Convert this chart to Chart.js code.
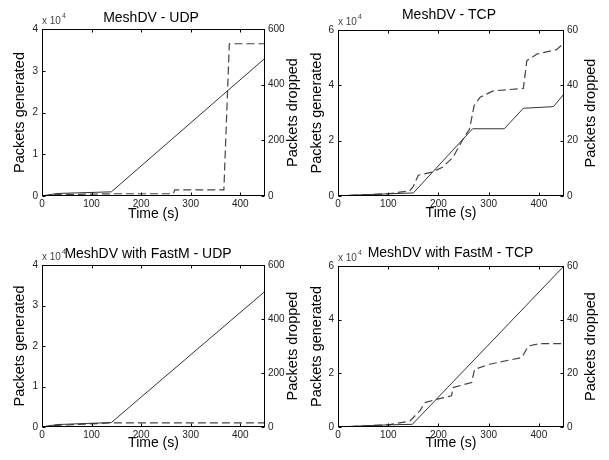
<!DOCTYPE html>
<html>
<head>
<meta charset="utf-8">
<title>MeshDV packets</title>
<script src="https://cdn.jsdelivr.net/npm/chart.js@4.4.1/dist/chart.umd.min.js"></script>
<style>
  html, body { margin: 0; padding: 0; background: #fff; }
  #wrap { position: relative; width: 609px; height: 460px; }
  #wrap canvas { position: absolute; left: 0; top: 0; }
</style>
</head>
<body>
<div id="wrap">
  <canvas id="c1" width="609" height="460"></canvas>
  <canvas id="c2" width="609" height="460"></canvas>
  <canvas id="c3" width="609" height="460"></canvas>
  <canvas id="c4" width="609" height="460"></canvas>
</div>
<script>
const FONT = "'Liberation Sans', Arial, sans-serif";

// tick labels
const timeTicks = [0, 100, 200, 300, 400];
const udpGenTicks = [0, 10000, 20000, 30000, 40000];
const udpDropTicks = [0, 200, 400, 600];
const tcpGenTicks = [0, 20000, 40000, 60000];
const tcpDropTicks = [0, 20, 40, 60];

// MeshDV - UDP
const udpGenTime = [0, 30, 140, 450];
const udpGen = [0, 600, 1000, 33000];
const udpDropTime = [0, 30, 140, 265, 268, 367, 378, 450];
const udpDrop = [0, 5, 8, 8, 22, 22, 547, 547];

// MeshDV - TCP
const tcpGenTime = [0, 30, 100, 150, 268, 331, 369, 429, 450];
const tcpGen = [0, 300, 800, 1100, 24300, 24300, 31700, 32300, 36900];
const tcpDropTime = [0, 100, 143, 150, 160, 187, 208, 229, 249, 262, 266, 271, 283, 309, 369, 376, 396, 435, 450];
const tcpDrop = [0, 0.8, 1.9, 3.5, 7.5, 8.6, 10.4, 14, 20.6, 24.2, 28, 32.6, 35.7, 38, 38.9, 48.9, 51.3, 52.9, 55.3];

// MeshDV with FastM - UDP
const fastUdpGenTime = [0, 30, 140, 450];
const fastUdpGen = [0, 600, 1100, 33500];
const fastUdpDropTime = [0, 30, 140, 450];
const fastUdpDrop = [0, 6, 15, 15];

// MeshDV with FastM - TCP
const fastTcpGenTime = [0, 60, 100, 148, 450];
const fastTcpGen = [0, 500, 800, 1000, 60000];
const fastTcpDropTime = [0, 100, 143, 163, 173, 196, 226, 229, 266, 272, 302, 366, 379, 402, 450];
const fastTcpDrop = [0, 0.8, 2.2, 6, 9.1, 10.3, 11.6, 14.7, 16.6, 21.5, 23.4, 25.9, 30.2, 31.1, 31.1];

const titles = ["MeshDV - UDP", "MeshDV - TCP", "MeshDV with FastM - UDP", "MeshDV with FastM - TCP"];

const pts = (xs, ys) => xs.map((x, i) => ({ x, y: ys[i] }));

// box outline, inward ticks, right label and the x10^4 note
const framePlugin = {
  id: "frame",
  afterDraw(chart, args, opts) {
    const { ctx, chartArea: a, scales } = chart;
    const L = Math.round(a.left) + 0.5, R = Math.round(a.right) - 0.5;
    const T = Math.round(a.top) + 0.5, B = Math.round(a.bottom) - 0.5;
    ctx.save();
    ctx.strokeStyle = "#000";
    ctx.lineWidth = 1;
    ctx.strokeRect(L, T, R - L, B - T);
    ctx.beginPath();
    scales.x.ticks.forEach(t => {
      const px = Math.round(scales.x.getPixelForValue(t.value)) + 0.5;
      ctx.moveTo(px, B); ctx.lineTo(px, B - 3);
      ctx.moveTo(px, T); ctx.lineTo(px, T + 3);
    });
    scales.y.ticks.forEach(t => {
      const py = Math.round(scales.y.getPixelForValue(t.value)) + 0.5;
      ctx.moveTo(L, py); ctx.lineTo(L + 3, py);
    });
    scales.y1.ticks.forEach(t => {
      const py = Math.round(scales.y1.getPixelForValue(t.value)) + 0.5;
      ctx.moveTo(R, py); ctx.lineTo(R - 3, py);
    });
    ctx.stroke();

    ctx.fillStyle = "#000";
    ctx.font = "14.5px " + FONT;
    ctx.textAlign = "center";
    ctx.textBaseline = "middle";
    ctx.translate(a.right + opts.rightOffset, (a.top + a.bottom) / 2);
    ctx.rotate(-Math.PI / 2);
    ctx.fillText("Packets dropped", 0, 0);
    ctx.restore();

    ctx.save();
    ctx.fillStyle = "#444";
    ctx.textBaseline = "middle";
    ctx.textAlign = "left";
    ctx.font = "10px " + FONT;
    const w = ctx.measureText("x 10").width;
    ctx.fillText("x 10", a.left, a.top - 7.5);
    ctx.font = "7px " + FONT;
    ctx.fillText("4", a.left + w + 1, a.top - 12.5);
    ctx.restore();
  }
};

function makePanel(id, title, gen, drop, genTicks, dropTicks, lay) {
  const [rl, rt, rr, rb] = lay.region;
  const [bl, bt, br, bb] = lay.box;
  const titleTop = lay.titleY - rt - 8.4;
  new Chart(document.getElementById(id), {
    type: "line",
    data: {
      datasets: [
        { data: gen, yAxisID: "y", borderColor: "#333", borderWidth: 1, pointRadius: 0, tension: 0, fill: false },
        { data: drop, yAxisID: "y1", borderColor: "#444", borderWidth: 1.2, borderDash: [8, 4], pointRadius: 0, tension: 0, fill: false }
      ]
    },
    options: {
      responsive: false,
      animation: false,
      layout: { padding: { left: rl, top: rt, right: 609 - rr, bottom: 460 - rb } },
      plugins: {
        legend: { display: false },
        tooltip: { enabled: false },
        title: {
          display: true, text: title, color: "#000",
          font: { family: FONT, size: 14, weight: "normal" },
          padding: { top: titleTop, bottom: bt - rt - 16.8 - titleTop }
        },
        frame: { rightOffset: lay.y1labelX - br }
      },
      scales: {
        x: {
          type: "linear", min: 0, max: 450,
          grid: { display: false, drawTicks: false }, border: { display: false },
          afterBuildTicks: s => { s.ticks = timeTicks.map(v => ({ value: v })); },
          afterFit: s => { s.height = rb - bb; },
          ticks: { padding: 2, color: "#222", font: { family: FONT, size: 10 } },
          title: {
            display: true, text: "Time (s)", color: "#000",
            font: { family: FONT, size: 14 },
            padding: { top: 0, bottom: rb - lay.xlabelY - 8.4 }
          }
        },
        y: {
          position: "left", min: 0, max: genTicks[genTicks.length - 1],
          grid: { display: false, drawTicks: false }, border: { display: false },
          afterBuildTicks: s => { s.ticks = genTicks.map(v => ({ value: v })); },
          afterFit: s => { s.width = bl - rl; },
          ticks: { padding: 4, color: "#222", font: { family: FONT, size: 10 }, callback: v => v / 10000 },
          title: {
            display: true, text: "Packets generated", color: "#000",
            font: { family: FONT, size: 14.5 },
            padding: { top: lay.ylabelX - rl - 8.7, bottom: 0 }
          }
        },
        y1: {
          position: "right", min: 0, max: dropTicks[dropTicks.length - 1],
          grid: { display: false, drawTicks: false }, border: { display: false },
          afterBuildTicks: s => { s.ticks = dropTicks.map(v => ({ value: v })); },
          afterFit: s => { s.width = rr - br; },
          ticks: { padding: 3, color: "#222", font: { family: FONT, size: 10 } }
        }
      }
    },
    plugins: [framePlugin]
  });
}

makePanel("c1", titles[0], pts(udpGenTime, udpGen), pts(udpDropTime, udpDrop), udpGenTicks, udpDropTicks,
  { region: [0, 0, 302, 230], box: [42, 29, 265, 196], titleY: 18, ylabelX: 20, xlabelY: 214.5, y1labelX: 293 });
makePanel("c2", titles[1], pts(tcpGenTime, tcpGen), pts(tcpDropTime, tcpDrop), tcpGenTicks, tcpDropTicks,
  { region: [304, 0, 594, 230], box: [338, 30, 564, 196], titleY: 15.5, ylabelX: 317, xlabelY: 213, y1labelX: 591 });
makePanel("c3", titles[2], pts(fastUdpGenTime, fastUdpGen), pts(fastUdpDropTime, fastUdpDrop), udpGenTicks, udpDropTicks,
  { region: [0, 230, 296, 460], box: [42, 265, 265, 427], titleY: 254, ylabelX: 20, xlabelY: 443, y1labelX: 293 });
makePanel("c4", titles[3], pts(fastTcpGenTime, fastTcpGen), pts(fastTcpDropTime, fastTcpDrop), tcpGenTicks, tcpDropTicks,
  { region: [304, 230, 597, 460], box: [338, 266, 564, 427], titleY: 253, ylabelX: 317, xlabelY: 443.5, y1labelX: 591 });
</script>
</body>
</html>
